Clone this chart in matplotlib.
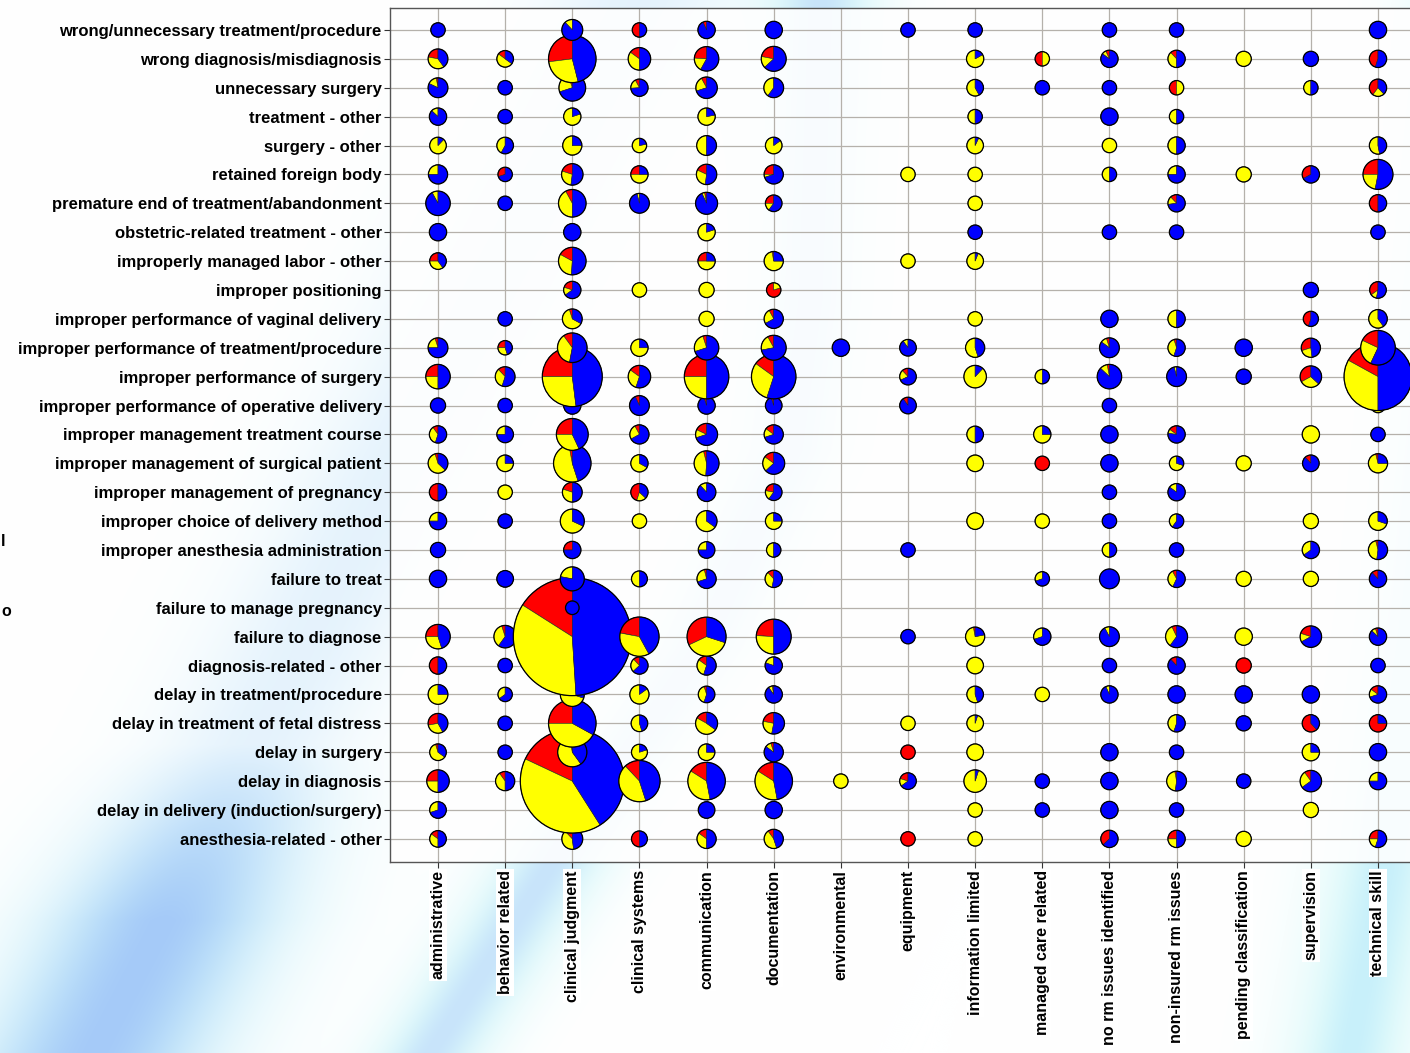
import numpy as np
import matplotlib.pyplot as plt
import matplotlib.transforms as mtransforms
from matplotlib.patches import Wedge, Circle

problems = [
    'wrong/unnecessary treatment/procedure',
    'wrong diagnosis/misdiagnosis',
    'unnecessary surgery',
    'treatment - other',
    'surgery - other',
    'retained foreign body',
    'premature end of treatment/abandonment',
    'obstetric-related treatment - other',
    'improperly managed labor - other',
    'improper positioning',
    'improper performance of vaginal delivery',
    'improper performance of treatment/procedure',
    'improper performance of surgery',
    'improper performance of operative delivery',
    'improper management treatment course',
    'improper management of surgical patient',
    'improper management of pregnancy',
    'improper choice of delivery method',
    'improper anesthesia administration',
    'failure to treat',
    'failure to manage pregnancy',
    'failure to diagnose',
    'diagnosis-related - other',
    'delay in treatment/procedure',
    'delay in treatment of fetal distress',
    'delay in surgery',
    'delay in diagnosis',
    'delay in delivery (induction/surgery)',
    'anesthesia-related - other',
]

factors = ['administrative', 'behavior related', 'clinical judgment',
           'clinical systems', 'communication', 'documentation',
           'environmental', 'equipment', 'information limited',
           'managed care related', 'no rm issues identified',
           'non-insured rm issues', 'pending classification',
           'supervision', 'technical skill']

# total cases per cell (pie area)
cases = [
    [9, 0, 19, 9, 13, 13, 0, 9, 9, 0, 9, 9, 0, 0, 13],
    [17, 12, 98, 22, 26, 27, 0, 0, 13, 9, 13, 13, 10, 10, 13],
    [17, 9, 31, 13, 20, 17, 0, 0, 12, 9, 9, 9, 0, 9, 13],
    [13, 9, 13, 0, 13, 0, 0, 0, 9, 0, 13, 9, 0, 0, 0],
    [12, 12, 16, 9, 17, 12, 0, 0, 12, 0, 9, 13, 0, 0, 13],
    [16, 9, 20, 13, 18, 16, 0, 9, 9, 0, 9, 13, 10, 13, 39],
    [26, 9, 33, 17, 21, 12, 0, 0, 9, 0, 0, 13, 0, 0, 13],
    [13, 0, 13, 0, 13, 0, 0, 0, 9, 0, 9, 9, 0, 0, 9],
    [12, 0, 33, 0, 13, 16, 0, 9, 12, 0, 0, 0, 0, 0, 0],
    [0, 0, 13, 9, 10, 9, 0, 0, 0, 0, 0, 0, 0, 10, 12],
    [0, 9, 17, 0, 10, 16, 0, 0, 9, 0, 13, 13, 0, 10, 15],
    [17, 9, 38, 13, 26, 27, 13, 12, 16, 0, 17, 13, 13, 16, 52],
    [26, 17, 156, 22, 86, 86, 0, 12, 22, 9, 26, 17, 10, 20, 200],
    [10, 9, 13, 17, 13, 12, 0, 12, 0, 0, 9, 0, 0, 0, 9],
    [13, 12, 44, 16, 21, 16, 0, 0, 12, 13, 13, 13, 0, 13, 9],
    [17, 12, 61, 13, 27, 21, 0, 0, 12, 9, 13, 9, 10, 12, 16],
    [13, 9, 17, 13, 15, 12, 0, 0, 0, 0, 9, 13, 0, 0, 0],
    [13, 9, 25, 9, 19, 12, 0, 0, 12, 9, 9, 9, 0, 10, 15],
    [10, 0, 13, 0, 12, 9, 0, 9, 0, 0, 9, 9, 0, 13, 16],
    [13, 12, 25, 11, 16, 13, 0, 0, 0, 9, 17, 13, 10, 10, 13],
    [0, 0, 8, 0, 0, 0, 0, 0, 0, 0, 0, 0, 0, 0, 0],
    [26, 22, 604, 67, 66, 53, 0, 9, 16, 13, 17, 21, 13, 20, 13],
    [13, 9, 13, 13, 16, 13, 0, 0, 12, 0, 9, 13, 10, 0, 9],
    [17, 9, 25, 16, 12, 13, 0, 0, 12, 9, 13, 13, 13, 13, 13],
    [17, 9, 98, 12, 21, 20, 0, 9, 12, 0, 0, 13, 10, 13, 13],
    [12, 9, 37, 11, 12, 16, 0, 9, 12, 0, 13, 9, 0, 13, 13],
    [22, 16, 469, 74, 61, 61, 9, 12, 22, 9, 13, 17, 9, 20, 13],
    [12, 0, 0, 0, 12, 13, 0, 0, 9, 9, 13, 9, 0, 10, 0],
    [12, 0, 19, 11, 16, 16, 0, 9, 9, 0, 13, 13, 10, 0, 13],
]

# share of each cell in red and yellow (percent), the rest is blue
red_pct = [
    [0, 0, 0, 50, 7, 0, 0, 0, 0, 0, 0, 0, 0, 0, 0],
    [22, 15, 27, 15, 24, 22, 0, 0, 0, 50, 7, 12, 0, 0, 45],
    [3, 0, 5, 8, 8, 0, 0, 0, 0, 0, 0, 50, 0, 0, 40],
    [0, 0, 0, 0, 0, 0, 0, 0, 0, 0, 0, 0, 0, 0, 0],
    [0, 0, 0, 0, 0, 0, 0, 0, 0, 0, 0, 0, 0, 0, 0],
    [0, 30, 20, 25, 18, 25, 0, 0, 0, 0, 0, 0, 0, 33, 25],
    [0, 0, 8, 0, 3, 25, 0, 0, 0, 0, 0, 12, 0, 0, 50],
    [0, 0, 0, 0, 0, 0, 0, 0, 0, 0, 0, 0, 0, 0, 0],
    [25, 0, 17, 0, 25, 3, 0, 0, 0, 0, 0, 0, 0, 0, 0],
    [0, 0, 20, 0, 0, 80, 0, 0, 0, 0, 0, 0, 0, 0, 35],
    [0, 0, 5, 0, 0, 8, 0, 0, 0, 0, 0, 0, 0, 45, 0],
    [5, 25, 10, 0, 5, 8, 0, 0, 0, 0, 5, 5, 0, 30, 18],
    [25, 12, 25, 15, 25, 15, 0, 12, 0, 0, 3, 0, 0, 33, 17],
    [0, 0, 0, 7, 5, 5, 0, 10, 0, 0, 0, 0, 0, 0, 0],
    [10, 0, 25, 8, 18, 15, 0, 0, 0, 0, 0, 15, 0, 0, 0],
    [5, 0, 3, 0, 4, 15, 0, 0, 0, 100, 0, 0, 0, 12, 4],
    [50, 0, 20, 45, 0, 22, 0, 0, 0, 0, 0, 0, 0, 0, 0],
    [0, 0, 0, 0, 0, 0, 0, 0, 0, 0, 0, 0, 0, 0, 0],
    [0, 0, 25, 0, 0, 0, 0, 0, 0, 0, 0, 0, 0, 0, 4],
    [0, 0, 0, 0, 4, 12, 0, 0, 0, 0, 0, 8, 0, 0, 12],
    [0, 0, 0, 0, 0, 0, 0, 0, 0, 0, 0, 0, 0, 0, 0],
    [25, 5, 16, 22, 32, 24, 0, 0, 3, 0, 0, 7, 0, 20, 5],
    [50, 0, 0, 12, 15, 0, 0, 0, 0, 0, 0, 12, 100, 0, 0],
    [0, 0, 0, 0, 5, 3, 0, 0, 0, 0, 0, 0, 0, 0, 15],
    [28, 0, 25, 0, 17, 22, 0, 0, 0, 0, 0, 0, 0, 62, 75],
    [5, 0, 3, 0, 0, 5, 0, 100, 0, 0, 0, 0, 0, 0, 0],
    [25, 10, 18, 12, 16, 16, 0, 20, 0, 0, 0, 3, 0, 10, 0],
    [0, 0, 0, 0, 0, 0, 0, 0, 0, 0, 0, 0, 0, 0, 0],
    [15, 0, 12, 50, 15, 10, 0, 100, 0, 0, 37, 25, 0, 0, 25],
]

yellow_pct = [
    [0, 0, 12, 0, 0, 0, 0, 0, 0, 0, 0, 0, 0, 0, 0],
    [38, 50, 27, 35, 18, 15, 0, 0, 83, 50, 8, 38, 100, 0, 0],
    [15, 0, 25, 18, 22, 40, 0, 0, 58, 0, 0, 50, 0, 50, 22],
    [13, 0, 80, 0, 78, 0, 0, 0, 50, 0, 0, 50, 0, 0, 0],
    [88, 42, 75, 78, 50, 85, 0, 0, 93, 0, 100, 50, 0, 0, 53],
    [25, 0, 28, 50, 30, 5, 0, 100, 100, 0, 50, 25, 100, 0, 22],
    [8, 0, 42, 4, 4, 15, 0, 0, 100, 0, 0, 15, 0, 0, 0],
    [0, 0, 0, 0, 80, 0, 0, 0, 0, 0, 0, 0, 0, 0, 0],
    [35, 0, 32, 0, 50, 72, 0, 100, 94, 0, 0, 0, 0, 0, 0],
    [0, 0, 15, 100, 100, 20, 0, 0, 0, 0, 0, 0, 0, 0, 12],
    [0, 0, 62, 0, 100, 25, 0, 0, 100, 0, 0, 50, 0, 0, 60],
    [20, 30, 37, 75, 25, 20, 0, 10, 55, 0, 10, 40, 0, 22, 25],
    [25, 33, 27, 30, 25, 30, 0, 20, 88, 50, 10, 4, 0, 30, 33],
    [0, 0, 0, 0, 0, 0, 0, 0, 0, 0, 0, 0, 0, 0, 100],
    [35, 25, 32, 25, 12, 15, 0, 0, 50, 75, 0, 8, 0, 100, 0],
    [58, 75, 52, 67, 45, 22, 0, 0, 100, 0, 0, 70, 100, 0, 71],
    [0, 100, 30, 18, 12, 18, 0, 0, 0, 0, 0, 15, 0, 0, 0],
    [25, 0, 68, 100, 65, 75, 0, 0, 100, 100, 0, 40, 0, 100, 70],
    [0, 0, 0, 0, 25, 50, 0, 0, 0, 0, 50, 0, 0, 35, 44],
    [0, 0, 22, 50, 26, 35, 0, 0, 0, 30, 0, 35, 100, 100, 0],
    [0, 0, 0, 0, 0, 0, 0, 0, 0, 0, 0, 0, 0, 0, 0],
    [30, 35, 35, 36, 38, 26, 0, 0, 75, 30, 8, 33, 100, 13, 8],
    [0, 0, 0, 25, 30, 20, 0, 0, 100, 0, 0, 0, 0, 0, 0],
    [75, 35, 70, 85, 40, 7, 0, 0, 55, 100, 7, 0, 0, 0, 15],
    [30, 0, 42, 55, 48, 25, 0, 100, 95, 0, 0, 45, 0, 0, 0],
    [60, 0, 57, 80, 75, 10, 0, 0, 100, 0, 0, 0, 0, 75, 0],
    [25, 40, 41, 43, 37, 37, 100, 15, 95, 0, 0, 45, 0, 25, 25],
    [30, 0, 0, 0, 0, 0, 0, 0, 100, 0, 0, 0, 0, 100, 0],
    [35, 0, 40, 0, 35, 45, 0, 0, 100, 0, 0, 25, 100, 0, 20],
]

slice_colors = ['#ff0000', '#ffff00', '#0000ff']
font = ['Liberation Sans', 'DejaVu Sans']

fig = plt.figure(figsize=(14.1, 10.53), dpi=100)

# decorative background swirls
H, W = 1053, 1410
yy, xx = np.mgrid[0:H, 0:W].astype(float)
img = np.ones((H, W, 3))


def add_band(cx, core, halo, core_rgb, halo_rgb, strength=1.0):
    global img
    d = np.abs(xx - cx)
    c = (np.exp(-(d / halo) ** 2) * strength)[..., None]
    b = (np.exp(-(d / core) ** 2) * strength)[..., None]
    img = img * (1 - c) + np.array(halo_rgb) / 255 * c
    img = img * (1 - b) + np.array(core_rgb) / 255 * b


fade = np.clip((yy - 700) / 220, 0.2, 1.0)
add_band(94 + (H - yy) * 0.518, 85, 135, (165, 202, 248), (205, 245, 250), fade)
add_band(np.interp(yy, [0, 300, 450, 650, 850, H], [820, 810, 790, 700, 560, 430]),
         30, 65, (200, 228, 250), (215, 248, 250))
add_band(np.interp(yy, [0, 300, 600, 865, H], [1480, 1450, 1420, 1385, 1350]),
         30, 70, (200, 240, 250), (220, 250, 250))

bg = fig.add_axes([0, 0, 1, 1], zorder=-5)
bg.imshow(img, aspect='auto', extent=(0, W, H, 0), interpolation='bilinear')
bg.axis('off')

ax = fig.add_axes([390 / 1410, 191 / 1053, 1036 / 1410, 854 / 1053])
ax.set_facecolor((1, 1, 1, 0.88))

nrows, ncols = len(problems), len(factors)
for j in range(ncols):
    for i in reversed(range(nrows)):
        n = cases[i][j]
        if n == 0:
            continue
        rad = 0.024 * np.sqrt(n)
        tr = fig.dpi_scale_trans + mtransforms.ScaledTranslation(j, i, ax.transData)
        shares = [red_pct[i][j], yellow_pct[i][j], 100 - red_pct[i][j] - yellow_pct[i][j]]
        start = 90.0
        for share, col in zip(shares, slice_colors):
            if share <= 0:
                continue
            span = 3.6 * share
            ax.add_patch(Wedge((0, 0), rad, start, start + span, facecolor=col,
                               edgecolor='#222222', lw=0.4, transform=tr, zorder=3))
            start += span
        ax.add_patch(Circle((0, 0), rad, fill=False, edgecolor='black', lw=0.9,
                            transform=tr, zorder=3))

ax.set_xlim(-0.715, 14.715)
ax.set_ylim(28.8, -0.76)
ax.set_xticks(range(ncols))
ax.set_xticklabels(factors, rotation=90, va='top', ha='center')
ax.set_yticks(range(nrows))
ax.set_yticklabels(problems)
for lbl in ax.get_xticklabels():
    lbl.set_family(font)
    lbl.set_fontweight('bold')
    lbl.set_fontsize(11.5)
    lbl.set_bbox(dict(facecolor='white', edgecolor='none', pad=1))
for lbl in ax.get_yticklabels():
    lbl.set_family(font)
    lbl.set_fontweight('bold')
    lbl.set_fontsize(12)

ax.grid(True, color='#b5b1ab', lw=0.9)
ax.set_axisbelow(True)
ax.tick_params(length=4, width=0.8, color='#333333', pad=2)
for s in ax.spines.values():
    s.set_color('#555555')
    s.set_linewidth(1.0)

# glyphs at the left edge
fig.text(3.5 / W, 1 - 542 / H, 'l', family=font, fontweight='bold', fontsize=11.5,
         ha='center', va='center')
fig.text(1 / W, 1 - 611 / H, 'o', family=font, fontweight='bold', fontsize=11.5,
         ha='left', va='center')

fig.savefig('out.png', dpi=100)
